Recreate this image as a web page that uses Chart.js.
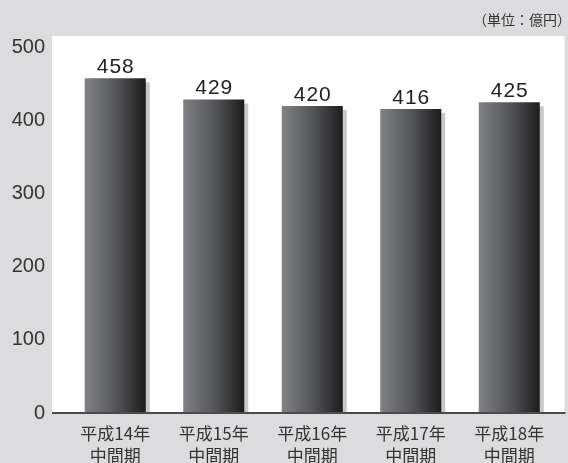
<!DOCTYPE html>
<html>
<head>
<meta charset="utf-8">
<script src="https://cdn.jsdelivr.net/npm/chart.js@4.4.1/dist/chart.umd.min.js"></script>
<style>
body { margin: 0; background: #dcdcde; }
#wrap { width: 568px; height: 463px; }
</style>
</head>
<body>
<div id="wrap"><canvas id="myChart"></canvas></div>
<script>
// data
const periods = [
    ['平成14年', '中間期'],
    ['平成15年', '中間期'],
    ['平成16年', '中間期'],
    ['平成17年', '中間期'],
    ['平成18年', '中間期']
];
const amounts = [458, 429, 420, 416, 425];
const yTicks = [0, 100, 200, 300, 400, 500];
const unitLabel = '（単位：億円）';

Chart.defaults.font.family = '"Liberation Sans", "Noto Sans CJK JP", sans-serif';
Chart.defaults.color = '#333';

// white panel, bar gradient + drop shadow, axis line, value labels, unit
const panelPlugin = {
    id: 'panel',
    beforeDraw(chart) {
        const { ctx, chartArea: a } = chart;
        ctx.save();
        ctx.fillStyle = '#ffffff';
        ctx.fillRect(a.left - 14, a.top - 11.5, a.right - a.left + 20, a.bottom - a.top + 11.5);
        ctx.restore();
    },
    beforeDatasetsDraw(chart) {
        const ctx = chart.ctx;
        chart.getDatasetMeta(0).data.forEach(bar => {
            const g = ctx.createLinearGradient(bar.x - bar.width / 2, 0, bar.x + bar.width / 2, 0);
            g.addColorStop(0, '#818286');
            g.addColorStop(0.5, '#55565a');
            g.addColorStop(1, '#1c1c1c');
            // options are shared between bars, so give each its own copy
            bar.options = Object.assign({}, bar.options, { backgroundColor: g });
        });
        ctx.save();
        ctx.shadowColor = '#c8c8c8';
        ctx.shadowOffsetX = 4;
        ctx.shadowOffsetY = 4;
        ctx.shadowBlur = 0;
    },
    afterDatasetsDraw(chart) {
        const { ctx, chartArea: a } = chart;
        ctx.restore();

        ctx.save();
        ctx.strokeStyle = '#4a4a4a';
        ctx.lineWidth = 2;
        ctx.beginPath();
        ctx.moveTo(a.left - 14, a.bottom);
        ctx.lineTo(a.right + 7, a.bottom);
        ctx.stroke();

        ctx.fillStyle = '#222';
        ctx.font = '21px "Liberation Sans"';
        ctx.letterSpacing = '1px';
        ctx.textAlign = 'center';
        ctx.textBaseline = 'alphabetic';
        chart.getDatasetMeta(0).data.forEach((bar, i) => {
            ctx.fillText(String(amounts[i]), bar.x + 0.5, bar.y - 5);
        });
        ctx.restore();
    },
    afterDraw(chart) {
        const ctx = chart.ctx;
        ctx.save();
        ctx.fillStyle = '#333';
        ctx.font = '14px "Noto Sans CJK JP"';
        ctx.textAlign = 'right';
        ctx.textBaseline = 'middle';
        ctx.fillText(unitLabel, chart.width + 3, 20);
        ctx.restore();
    }
};

new Chart(document.getElementById('myChart'), {
    type: 'bar',
    data: {
        labels: periods,
        datasets: [{
            data: amounts,
            backgroundColor: '#555',
            borderWidth: 0,
            categoryPercentage: 1,
            barPercentage: 0.62,
            clip: 0
        }]
    },
    options: {
        responsive: true,
        maintainAspectRatio: false,
        animation: false,
        layout: { padding: { top: 47.5, right: 9.5, left: 0, bottom: 0 } },
        plugins: {
            legend: { display: false },
            tooltip: { enabled: false }
        },
        scales: {
            x: {
                grid: { display: false, drawTicks: false },
                border: { display: false },
                ticks: {
                    padding: 10,
                    color: '#333',
                    font: { size: 17, family: '"Noto Sans CJK JP"', lineHeight: 1.29 }
                },
                afterFit(scale) { scale.height = 50; }
            },
            y: {
                min: 0,
                max: 500,
                grid: { display: false, drawTicks: false },
                border: { display: false },
                ticks: {
                    padding: 21,
                    color: '#333',
                    font: { size: 20 }
                },
                afterBuildTicks(scale) {
                    scale.ticks = yTicks.map(v => ({ value: v }));
                },
                afterFit(scale) { scale.width = 66; }
            }
        }
    },
    plugins: [panelPlugin]
});
</script>
</body>
</html>
